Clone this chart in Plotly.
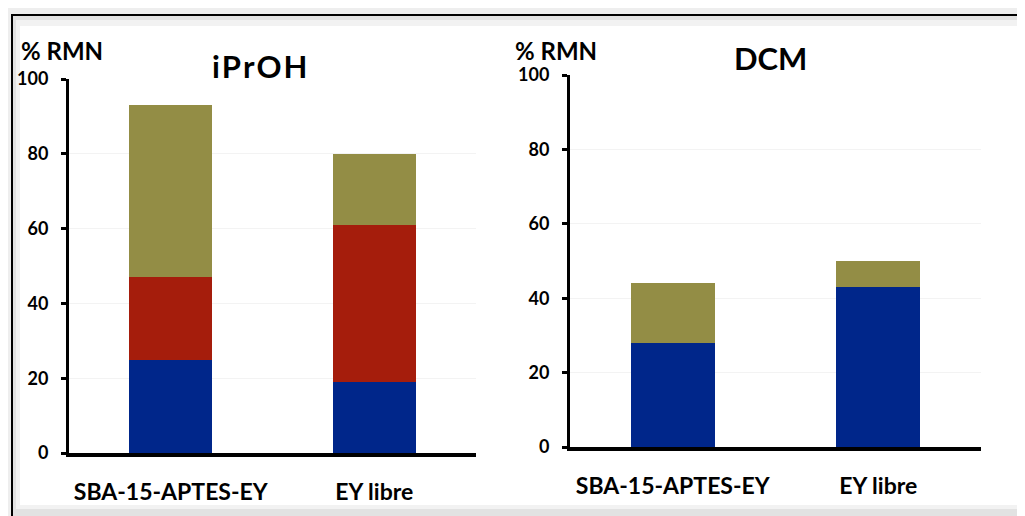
import plotly.graph_objects as go

categories = ["SBA-15-APTES-EY", "EY libre"]
# iPrOH panel (stacked segments, %)
iproh_blue = [25, 19]
iproh_red = [22, 42]
iproh_olive = [46, 19]
# DCM panel
dcm_blue = [28, 43]
dcm_olive = [16, 7]
yticks = [0, 20, 40, 60, 80, 100]

# page body has an 8px margin: work in page pixels and convert
OFF = 8
W, H = 1025 - OFF, 516 - OFF
BLUE = "#00268a"
RED = "#a51d0c"
OLIVE = "#938d45"
FONT = "Lato"

def px(x):
    return (x - OFF) / W

def py(y):
    return 1 - (y - OFF) / H

fig = go.Figure()
for vals, col in [(iproh_blue, BLUE), (iproh_red, RED), (iproh_olive, OLIVE)]:
    fig.add_trace(go.Bar(x=categories, y=vals, marker=dict(color=col, line=dict(width=0)),
                         xaxis="x", yaxis="y", showlegend=False, width=0.41))
for vals, col in [(dcm_blue, BLUE), (dcm_olive, OLIVE)]:
    fig.add_trace(go.Bar(x=categories, y=vals, marker=dict(color=col, line=dict(width=0)),
                         xaxis="x2", yaxis="y2", showlegend=False, width=0.41))

axis_common_y = dict(range=[0, 100], tickvals=yticks, showline=True, linecolor="black", linewidth=3,
                     ticks="outside", ticklen=5, tickwidth=3, tickcolor="black",
                     showgrid=True, gridcolor="#f3f3f3", gridwidth=1, zeroline=False,
                     tickfont=dict(family=FONT, size=18, color="black", weight="bold"),
                     ticklabelstandoff=9, fixedrange=True, automargin=False)
axis_common_x = dict(showline=True, linecolor="black", linewidth=4, ticks="", range=[-0.5, 1.5],
                     tickfont=dict(family=FONT, size=23, color="black", weight="bold"),
                     ticklabelstandoff=15, fixedrange=True, automargin=False)

fig.update_layout(
    width=W, height=H, barmode="stack",
    margin=dict(l=0, r=0, t=0, b=0, autoexpand=False),
    paper_bgcolor="#eeeeee", plot_bgcolor="rgba(0,0,0,0)",
    xaxis=dict(domain=[px(69), px(476)], anchor="y", **axis_common_x),
    yaxis=dict(domain=[py(453), py(79)], anchor="x", **axis_common_y),
    xaxis2=dict(domain=[px(570), px(981)], anchor="y2", **axis_common_x),
    yaxis2=dict(domain=[py(447), py(75)], anchor="x2", **axis_common_y),
    shapes=[
        dict(type="rect", xref="paper", yref="paper", x0=px(12), x1=px(1040), y0=py(530), y1=py(15),
             fillcolor="#e2e2e2", line=dict(color="black", width=2), layer="below"),
        dict(type="rect", xref="paper", yref="paper", x0=px(16), x1=px(1040), y0=py(509), y1=py(20),
             fillcolor="#f2f2f2", line=dict(width=0), layer="below"),
        dict(type="rect", xref="paper", yref="paper", x0=px(20), x1=px(1040), y0=py(505), y1=py(26),
             fillcolor="white", line=dict(width=0), layer="below"),
    ],
    annotations=[
        dict(text="% RMN", x=px(19), y=py(51), xref="paper", yref="paper", xanchor="left", yanchor="middle",
             showarrow=False, font=dict(family=FONT, size=24, color="black", weight="bold")),
        dict(text="% RMN", x=px(513), y=py(51), xref="paper", yref="paper", xanchor="left", yanchor="middle",
             showarrow=False, font=dict(family=FONT, size=24, color="black", weight="bold")),
        dict(text="i\u200aP\u200ar\u200aO\u200aH", x=px(259), y=py(66), xref="paper", yref="paper",
             xanchor="center", yanchor="middle",
             showarrow=False, font=dict(family=FONT, size=31, color="black", weight="bold")),
        dict(text="DCM", x=px(770), y=py(58), xref="paper", yref="paper", xanchor="center", yanchor="middle",
             showarrow=False, font=dict(family=FONT, size=31, color="black", weight="bold")),
    ],
)

fig.write_html("out.html")
